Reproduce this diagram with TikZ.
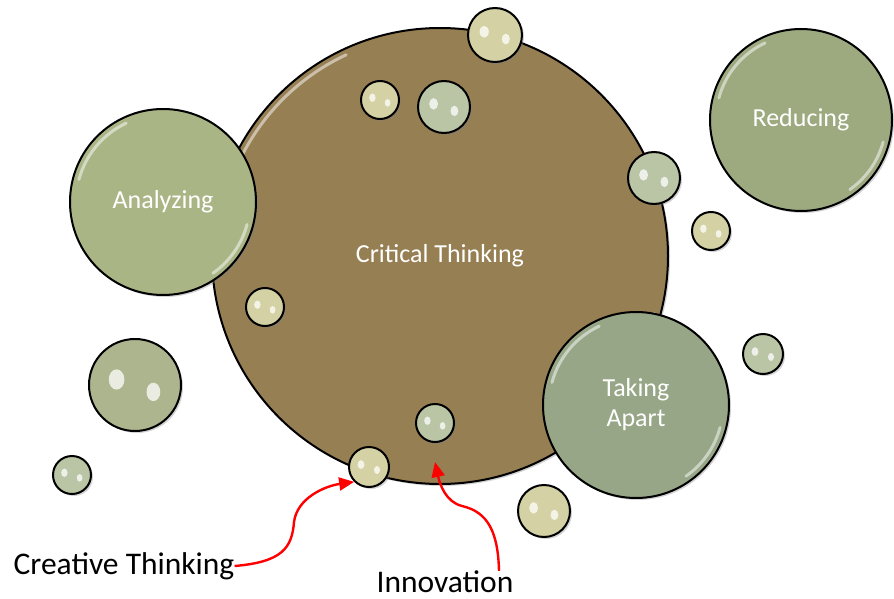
\documentclass[tikz,border=0pt]{standalone}
\usepackage{fontspec}
\setmainfont{Carlito}
\usetikzlibrary{shadows,arrows.meta,positioning}
\definecolor{critbrown}{RGB}{151,127,84}
\definecolor{sage}{RGB}{170,181,134}
\definecolor{sagegray}{RGB}{157,169,127}
\definecolor{sagegreen}{RGB}{150,166,134}
\definecolor{paleolive}{RGB}{212,210,164}
\definecolor{palegreen}{RGB}{186,197,166}
\definecolor{midsage}{RGB}{172,181,142}
\tikzset{
  bubble/.style={circle,draw=black,line width=2pt,inner sep=0pt,minimum size=#1,drop shadow={shadow xshift=2pt,shadow yshift=-2pt,opacity=.35}},
  biglabel/.style={text=white,font=\fontsize{26}{30}\selectfont,align=center},
  notelabel/.style={text=black,inner sep=0pt,font=\fontsize{31.5}{36}\selectfont},
  gloss/.style={white,opacity=.5,line width=3pt,line cap=round},
  notearrow/.style={red,line width=2.4pt,-{Triangle[length=15pt,width=13pt]}}
}
\begin{document}
\begin{tikzpicture}[x=1pt,y=-1pt]
\useasboundingbox (0,0) rectangle (894,599);
\foreach \n/\x/\y/\r/\c/\t in {crit/440/256/228/critbrown/Critical Thinking,anal/163/202/93/sage/Analyzing,%
redu/801/120/91/sagegray/Reducing,take/636/405/93/sagegreen/{Taking\\Apart}} {
  \node[bubble={2*\r*1pt},fill=\c,biglabel] (\n) at (\x,\y) {\t};
  \draw[gloss] ([shift={(195:{\r-6})}]\n.center) arc (195:245:{\r-6}) ([shift={(15:{\r-6})}]\n.center) arc (15:55:{\r-6});
}
\foreach \x/\y/\r/\c [count=\i] in {495/35/27/paleolive,380/100/19/paleolive,444/107/26/palegreen,654/178/26/palegreen,%
711/231/19/paleolive,265/307/19/paleolive,763/354/20/palegreen,135/385/46/midsage,435/423/19/palegreen,%
369/467/20/paleolive,72/475/19/palegreen,544/511/26/paleolive} {
  \node[bubble={2*\r*1pt},fill=\c] (s\i) at (\x,\y) {};
  \fill[white,opacity=.75] (\x-.4*\r,\y-.12*\r) ellipse ({.17*\r} and {.22*\r}) (\x+.4*\r,\y+.15*\r) ellipse ({.15*\r} and {.2*\r});
}
\node[notelabel] (creative) at (124,566) {Creative Thinking};
\node[notelabel] (innov) at (445,582) {Innovation};
\draw[notearrow] (creative.east) .. controls (282,562) and (292,548) .. (294,522) .. controls (297,498) and (325,486) .. (s10.south west);
\draw[notearrow] ([xshift=54pt]innov.north) .. controls (498,532) and (488,512) .. (462,506) .. controls (446,502) and (440,485) .. ([yshift=-19pt]s9.south);
\end{tikzpicture}
\end{document}
